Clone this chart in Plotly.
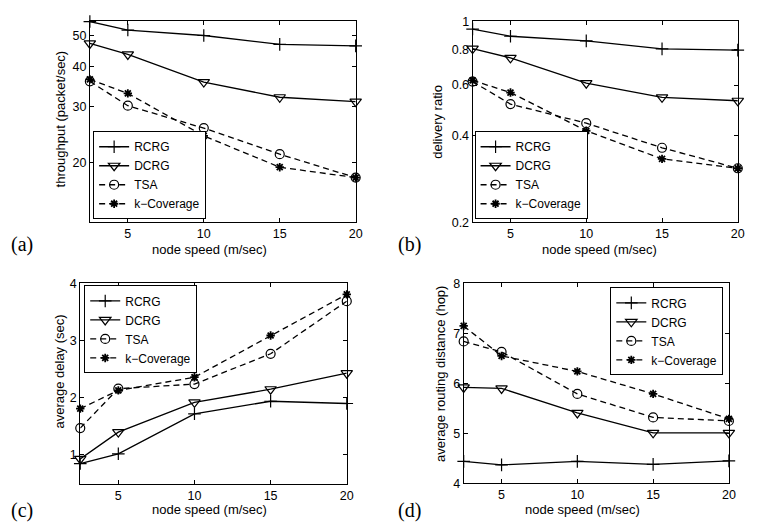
import math
import plotly.graph_objects as go

W, H = 757, 529

# node speed (m/sec)
speed = [2.5, 5, 10, 15, 20]
names = ["RCRG", "DCRG", "TSA", "k−Coverage"]

# (a) throughput (packet/sec)
thr_rcrg = [55.3, 52.0, 50.0, 46.9, 46.4]
thr_dcrg = [47.2, 43.6, 35.7, 32.0, 31.0]
thr_tsa = [35.9, 30.1, 25.6, 21.2, 17.9]
thr_kcov = [36.4, 32.9, 24.2, 19.3, 17.9]

# (b) delivery ratio
dr_rcrg = [0.940, 0.887, 0.855, 0.802, 0.794]
dr_dcrg = [0.804, 0.746, 0.609, 0.544, 0.529]
dr_tsa = [0.617, 0.515, 0.442, 0.363, 0.308]
dr_kcov = [0.623, 0.565, 0.416, 0.332, 0.308]

# (c) average delay (sec)
dl_rcrg = [0.85, 1.02, 1.72, 1.94, 1.90]
dl_dcrg = [0.93, 1.40, 1.92, 2.15, 2.43]
dl_tsa = [1.47, 2.16, 2.24, 2.77, 3.69]
dl_kcov = [1.81, 2.13, 2.36, 3.09, 3.81]

# (d) average routing distance (hop)
hp_rcrg = [4.44, 4.37, 4.44, 4.38, 4.45]
hp_dcrg = [5.92, 5.90, 5.41, 5.01, 5.01]
hp_tsa = [6.84, 6.63, 5.79, 5.32, 5.25]
hp_kcov = [7.15, 6.55, 6.24, 5.79, 5.29]

x_ticks = [5, 10, 15, 20]

FONT = "Liberation Sans, Arial, sans-serif"
SERIF = "Liberation Serif, Times New Roman, serif"

styles = [
    dict(symbol="cross-thin-open", size=9, dash="solid", lw=1.2),
    dict(symbol="triangle-down-open", size=10, dash="solid", lw=1.2),
    dict(symbol="circle-open", size=9, dash="6px,4px", lw=1.2),
    dict(symbol="asterisk-open", size=7, dash="6px,4px", lw=1.8),
]


def px_x(p):
    return p / W


def px_y(p):
    return 1 - p / H


fig = go.Figure()

panels = [
    dict(data=[thr_rcrg, thr_dcrg, thr_tsa, thr_kcov],
         xd=(90.7, 359), yd=(14.7, 220.7),
         ytype="log", yrange=[math.log10(13.0), math.log10(55.4)],
         ytick=[20, 30, 40, 50], yticktext=["20", "30", "40", "50"],
         ylabel="throughput (packet/sec)", ylab_xy=(62, 115),
         xlab_xy=(211, 249), tag="(a)", tag_xy=(22, 244),
         leg_xy=(94, 218), leg_anchor="bottom"),
    dict(data=[dr_rcrg, dr_dcrg, dr_tsa, dr_kcov],
         xd=(477, 744.7), yd=(14.7, 221),
         ytype="log", yrange=[math.log10(0.2), 0.0],
         ytick=[0.2, 0.4, 0.6, 0.8, 1.0], yticktext=["0.2", "0.4", "0.6", "0.8", "1"],
         ylabel="delivery ratio", ylab_xy=(442, 118),
         xlab_xy=(605, 249), tag="(b)", tag_xy=(413, 244),
         leg_xy=(479, 218), leg_anchor="bottom"),
    dict(data=[dl_rcrg, dl_dcrg, dl_tsa, dl_kcov],
         xd=(81, 350), yd=(284, 489.5),
         ytype="linear", yrange=[0.5, 4.0],
         ytick=[1, 2, 3, 4], yticktext=["1", "2", "3", "4"],
         ylabel="average delay (sec)", ylab_xy=(60, 374),
         xlab_xy=(211, 516), tag="(c)", tag_xy=(22, 517),
         leg_xy=(85, 286), leg_anchor="top"),
    dict(data=[hp_rcrg, hp_dcrg, hp_tsa, hp_kcov],
         xd=(468, 735.7), yd=(284, 489.3),
         ytype="linear", yrange=[4.0, 8.0],
         ytick=[4, 5, 6, 7, 8], yticktext=["4", "5", "6", "7", "8"],
         ylabel="average routing distance (hop)", ylab_xy=(444, 377),
         xlab_xy=(588, 516), tag="(d)", tag_xy=(413, 517),
         leg_xy=(616, 288), leg_anchor="top"),
]

annotations = []
layout_axes = {}

for i, p in enumerate(panels, start=1):
    sfx = "" if i == 1 else str(i)
    leg = "legend" if i == 1 else f"legend{i}"
    for name, ys, st in zip(names, p["data"], styles):
        fig.add_trace(go.Scatter(
            x=speed, y=ys, name=name, mode="lines+markers",
            xaxis=f"x{sfx}", yaxis=f"y{sfx}", legend=leg,
            cliponaxis=False,
            line=dict(color="black", width=1.3, dash=st["dash"]),
            marker=dict(symbol=st["symbol"], size=st["size"], color="black",
                        line=dict(color="black", width=st["lw"])),
        ))

    axis_common = dict(
        showgrid=False, zeroline=False, showline=True, linecolor="black",
        linewidth=1, mirror="allticks", ticks="inside", ticklen=4,
        tickcolor="black", tickwidth=1,
        tickfont=dict(family=FONT, size=12.5, color="black"),
    )
    layout_axes[f"xaxis{sfx}"] = dict(
        axis_common, domain=[px_x(p["xd"][0]), px_x(p["xd"][1])],
        range=[2.5, 20], tickvals=x_ticks, anchor=f"y{sfx}",
    )
    layout_axes[f"yaxis{sfx}"] = dict(
        axis_common, domain=[px_y(p["yd"][1]), px_y(p["yd"][0])],
        type=p["ytype"], range=p["yrange"], tickvals=p["ytick"],
        ticktext=p["yticktext"], anchor=f"x{sfx}",
    )
    layout_axes[leg] = dict(
        x=px_x(p["leg_xy"][0]), y=px_y(p["leg_xy"][1]),
        xanchor="left", yanchor=p["leg_anchor"],
        bgcolor="white", bordercolor="black", borderwidth=1,
        font=dict(family=FONT, size=12, color="black"),
        tracegroupgap=0, itemwidth=30,
    )

    annotations.append(dict(
        text="node speed (m/sec)", xref="paper", yref="paper",
        x=px_x(p["xlab_xy"][0]), y=px_y(p["xlab_xy"][1]),
        xanchor="center", yanchor="middle", showarrow=False,
        font=dict(family=FONT, size=13, color="black"),
    ))
    annotations.append(dict(
        text=p["ylabel"], xref="paper", yref="paper",
        x=px_x(p["ylab_xy"][0]), y=px_y(p["ylab_xy"][1]),
        xanchor="center", yanchor="middle", showarrow=False, textangle=-90,
        font=dict(family=FONT, size=13, color="black"),
    ))
    annotations.append(dict(
        text=p["tag"], xref="paper", yref="paper",
        x=px_x(p["tag_xy"][0]), y=px_y(p["tag_xy"][1]),
        xanchor="center", yanchor="middle", showarrow=False,
        font=dict(family=SERIF, size=20, color="black"),
    ))

fig.update_layout(
    width=W, height=H,
    margin=dict(l=0, r=0, t=0, b=0),
    paper_bgcolor="white", plot_bgcolor="white",
    showlegend=True,
    annotations=annotations,
    **layout_axes,
)

# let the figure fill the page edge to edge
fig.write_html("out.html", post_script="document.body.style.margin='0';")
